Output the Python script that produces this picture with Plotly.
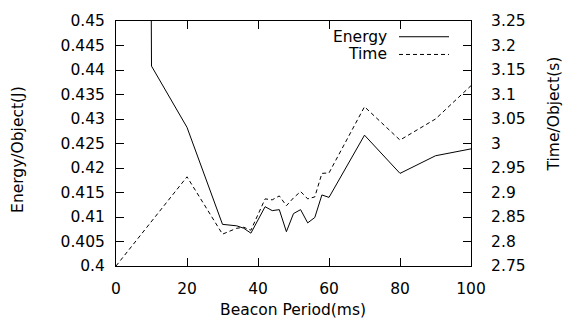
import plotly.graph_objects as go

# Data
energy_x = [0, 10, 20, 30, 34, 36, 38, 42, 44, 46, 48, 50, 52, 54, 56, 58, 60, 70, 80, 90, 100]
energy_y = [2.0, 0.4408, 0.4283, 0.4085, 0.4082, 0.4077, 0.4067, 0.4121, 0.4113, 0.4115, 0.4070,
            0.4107, 0.4115, 0.4088, 0.4099, 0.4145, 0.4140, 0.4267, 0.4189, 0.4225, 0.4239]

time_x = [0, 20, 30, 34, 36, 38, 42, 44, 46, 48, 50, 52, 54, 56, 58, 60, 70, 80, 90, 100]
time_y = [2.75, 2.932, 2.815, 2.827, 2.829, 2.823, 2.887, 2.885, 2.893, 2.873, 2.889,
          2.902, 2.887, 2.891, 2.939, 2.940, 3.075, 3.007, 3.050, 3.118]

x_ticks = [0, 20, 40, 60, 80, 100]
y1_ticks = [0.4, 0.405, 0.41, 0.415, 0.42, 0.425, 0.43, 0.435, 0.44, 0.445, 0.45]
y1_text = ["0.4", "0.405", "0.41", "0.415", "0.42", "0.425", "0.43", "0.435", "0.44", "0.445", "0.45"]
y2_ticks = [2.75, 2.8, 2.85, 2.9, 2.95, 3.0, 3.05, 3.1, 3.15, 3.2, 3.25]
y2_text = ["2.75", "2.8", "2.85", "2.9", "2.95", "3", "3.05", "3.1", "3.15", "3.2", "3.25"]

W, H = 566, 325
L, R, T, B = 116, 471, 17, 266  # plot area pixel bounds

def px(p):
    return (p - L) / (R - L)

def py(p):
    return (B - p) / (B - T)

FONT = "DejaVu Sans, Liberation Sans, Arial, sans-serif"
FS = 15.5

fig = go.Figure()
fig.add_trace(go.Scatter(x=energy_x, y=energy_y, mode="lines", name="Energy",
                         line=dict(color="black", width=1), yaxis="y", showlegend=False))
fig.add_trace(go.Scatter(x=time_x, y=time_y, mode="lines", name="Time",
                         line=dict(color="black", width=1, dash="4px,3px"), yaxis="y2",
                         showlegend=False))

axis_common = dict(showgrid=False, zeroline=False, showline=True, linecolor="black",
                   linewidth=1, ticks="inside", ticklen=8, tickcolor="black", tickwidth=1,
                   tickfont=dict(family=FONT, size=FS, color="black"))

fig.update_layout(
    width=W, height=H,
    margin=dict(l=L, r=W - R, t=T, b=H - B, pad=0),
    paper_bgcolor="white", plot_bgcolor="white",
    xaxis=dict(range=[0, 100], tickvals=x_ticks, mirror="ticks", ticklabelstandoff=8,
               **axis_common),
    yaxis=dict(range=[0.4, 0.45], tickvals=y1_ticks, ticktext=y1_text, ticklabelstandoff=7,
               **axis_common),
    yaxis2=dict(range=[2.75, 3.25], tickvals=y2_ticks, ticktext=y2_text, overlaying="y",
                side="right", ticklabelstandoff=16, **axis_common),
    showlegend=False,
)

# Axis titles
fig.add_annotation(text="Beacon Period(ms)", xref="paper", yref="paper", x=px(293), y=py(311),
                   xanchor="center", yanchor="middle", showarrow=False,
                   font=dict(family=FONT, size=FS, color="black"))
fig.add_annotation(text="Energy/Object(J)", xref="paper", yref="paper", x=px(18), y=py(147),
                   xanchor="center", yanchor="middle", showarrow=False, textangle=-90,
                   font=dict(family=FONT, size=FS, color="black"))
fig.add_annotation(text="Time/Object(s)", xref="paper", yref="paper", x=px(554), y=py(112),
                   xanchor="center", yanchor="middle", showarrow=False, textangle=-90,
                   font=dict(family=FONT, size=FS, color="black"))

# Legend (gnuplot style: label then sample line)
for label, yy, dash in [("Energy", 33, "solid"), ("Time", 51, "4px,3px")]:
    fig.add_annotation(text=label, xref="paper", yref="paper", x=px(389), y=py(yy),
                       xanchor="right", yanchor="middle", showarrow=False,
                       font=dict(family=FONT, size=FS, color="black"))
    fig.add_shape(type="line", xref="paper", yref="paper", x0=px(399), x1=px(449),
                  y0=py(yy), y1=py(yy), line=dict(color="black", width=1, dash=dash))

fig.write_html("out.html")
